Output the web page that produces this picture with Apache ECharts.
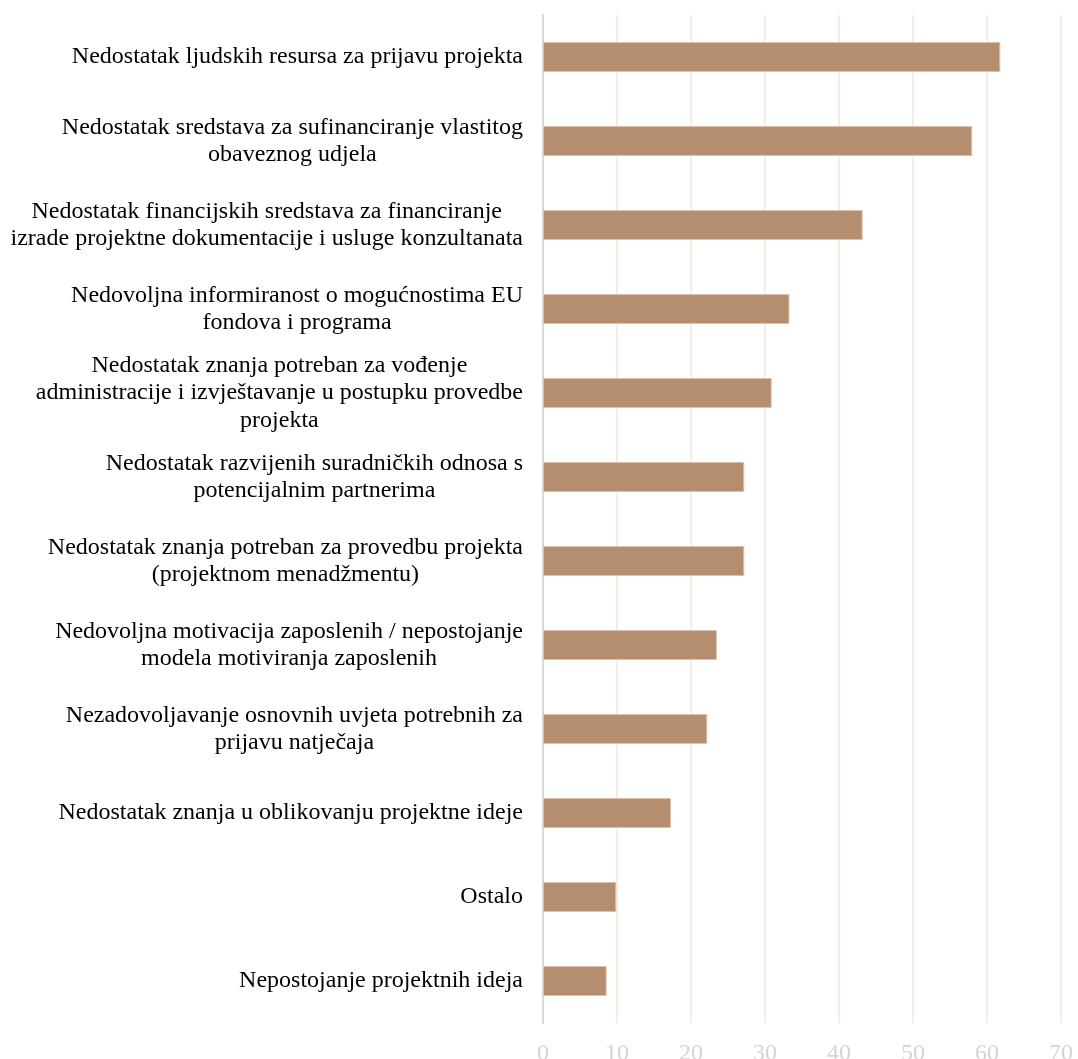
<!DOCTYPE html>
<html>
<head>
<meta charset="utf-8">
<script src="https://cdn.jsdelivr.net/npm/echarts@6/dist/echarts.min.js"></script>
<style>
html,body{margin:0;padding:0;background:#fff;}
#chart{width:1078px;height:1059px;}
</style>
</head>
<body>
<div id="chart"></div>
<script>
const categories = [
  "Nedostatak ljudskih resursa za prijavu projekta",
  "Nedostatak sredstava za sufinanciranje vlastitog\nobaveznog udjela",
  "Nedostatak financijskih sredstava za financiranje\nizrade projektne dokumentacije i usluge konzultanata",
  "Nedovoljna informiranost o mogućnostima EU\nfondova i programa",
  "Nedostatak znanja potreban za vođenje\nadministracije i izvještavanje u postupku provedbe\nprojekta",
  "Nedostatak razvijenih suradničkih odnosa s\npotencijalnim partnerima",
  "Nedostatak znanja potreban za provedbu projekta\n(projektnom menadžmentu)",
  "Nedovoljna motivacija zaposlenih / nepostojanje\nmodela motiviranja zaposlenih",
  "Nezadovoljavanje osnovnih uvjeta potrebnih za\nprijavu natječaja",
  "Nedostatak znanja u oblikovanju projektne ideje",
  "Ostalo",
  "Nepostojanje projektnih ideja"
];
const values = [61.8, 58.0, 43.2, 33.3, 30.9, 27.2, 27.2, 23.5, 22.2, 17.3, 9.9, 8.6];
const xTicks = [0, 10, 20, 30, 40, 50, 60, 70];

const chart = echarts.init(document.getElementById('chart'));
chart.setOption({
  animation: false,
  backgroundColor: '#ffffff',
  grid: { left: 543, right: 17, top: 15, bottom: 36, containLabel: false, outerBoundsMode: 'none' },
  xAxis: {
    type: 'value',
    min: xTicks[0],
    max: xTicks[xTicks.length - 1],
    interval: 10,
    axisLine: { show: false },
    axisTick: { show: false },
    splitLine: { show: true, lineStyle: { color: '#f1efe3', width: 2 } },
    axisLabel: {
      color: '#d4d4d4',
      fontFamily: 'Liberation Serif',
      fontSize: 24,
      margin: 19,
      hideOverlap: false
    }
  },
  yAxis: {
    type: 'category',
    inverse: true,
    data: categories,
    axisLine: { show: true, lineStyle: { color: '#d9d9d9', width: 2 } },
    axisTick: { show: false },
    splitLine: { show: false },
    axisLabel: {
      margin: 20,
      align: 'right',
      color: '#000',
      fontFamily: 'Liberation Serif',
      fontSize: 24,
      lineHeight: 27.5,
      formatter: function (v) {
        return v.split('\n').map(function (l) { return '{c|' + l + '}'; }).join('\n');
      },
      rich: {
        c: { align: 'center', color: '#000', fontFamily: 'Liberation Serif', fontSize: 24, lineHeight: 27.5 }
      }
    }
  },
  series: [{
    type: 'bar',
    data: values,
    barWidth: 30,
    itemStyle: { color: '#b58d6f', borderColor: '#d9c2b0', borderWidth: 1 }
  }]
});
</script>
</body>
</html>
